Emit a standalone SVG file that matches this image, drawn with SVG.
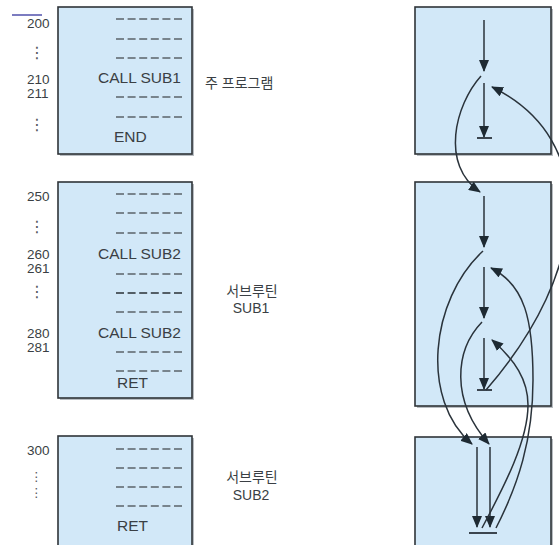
<svg xmlns="http://www.w3.org/2000/svg" width="559" height="545" viewBox="0 0 559 545">
<defs>
<marker id="ah" viewBox="0 0 12 10" refX="11" refY="5" markerWidth="12" markerHeight="10" markerUnits="userSpaceOnUse" orient="auto"><path d="M0,0 L12,5 L0,10 z" fill="#1e2a33"/></marker>
</defs>
<style>
.box{fill:#d2e8f8;stroke:#2f3438;stroke-width:1.6}
.sh{fill:#7d8790;opacity:0.55}
.dash{stroke:#5b636a;stroke-width:1.3;stroke-dasharray:8 3.6}
.dash.dk{stroke:#2a3036;stroke-width:1.6}
.code{font-family:"Liberation Sans",Arial,sans-serif;font-size:15.5px;fill:#3a3f44}
.num{font-family:"Liberation Sans",Arial,sans-serif;font-size:13.5px;fill:#3a3f44}
.dots{font-family:"DejaVu Sans",sans-serif;font-size:16px;fill:#55595d}
.dots.sm{font-size:12.5px}
.lbl{font-family:"Liberation Sans","Noto Sans CJK KR",sans-serif;font-size:14px;fill:#3a3f44}
.flow{fill:none;stroke:#2a333b;stroke-width:1.5}
.bar{stroke:#2a333b;stroke-width:1.8}
</style>
<rect width="559" height="545" fill="#ffffff"/>
<line x1="12" y1="15" x2="42" y2="15" stroke="#7c7cc0" stroke-width="2"/>

<g id="main-program">
<rect class="sh" x="60" y="9" width="134" height="147"/>
<rect class="box" x="58" y="7" width="134" height="147"/>
<line class="dash" x1="116" y1="19" x2="182" y2="19"/>
<line class="dash" x1="116" y1="39" x2="182" y2="39"/>
<line class="dash" x1="116" y1="58" x2="182" y2="58"/>
<text class="code" x="181" y="83" text-anchor="end">CALL SUB1</text>
<line class="dash" x1="116" y1="97" x2="182" y2="97"/>
<line class="dash" x1="116" y1="117" x2="182" y2="117"/>
<text class="code" x="114" y="142">END</text>
<text class="num" x="27" y="28">200</text>
<text class="dots" x="29" y="58">⋮</text>
<text class="num" x="27" y="84">210</text>
<text class="num" x="27" y="98">211</text>
<text class="dots" x="29" y="130">⋮</text>
<text class="lbl" x="205" y="88">주 프로그램</text>
</g>

<g id="sub1">
<rect class="sh" x="60" y="184" width="134" height="216"/>
<rect class="box" x="58" y="182" width="134" height="216"/>
<line class="dash" x1="116" y1="194" x2="182" y2="194"/>
<line class="dash" x1="116" y1="213" x2="182" y2="213"/>
<line class="dash" x1="116" y1="233" x2="182" y2="233"/>
<text class="code" x="181" y="259" text-anchor="end">CALL SUB2</text>
<line class="dash" x1="116" y1="274" x2="182" y2="274"/>
<line class="dash dk" x1="116" y1="293" x2="182" y2="293"/>
<line class="dash" x1="116" y1="312" x2="182" y2="312"/>
<text class="code" x="181" y="338" text-anchor="end">CALL SUB2</text>
<line class="dash" x1="116" y1="352" x2="182" y2="352"/>
<line class="dash" x1="116" y1="371" x2="182" y2="371"/>
<text class="code" x="117" y="388">RET</text>
<text class="num" x="27" y="201">250</text>
<text class="dots" x="29" y="232">⋮</text>
<text class="num" x="27" y="259">260</text>
<text class="num" x="27" y="273">261</text>
<text class="dots" x="29" y="297">⋮</text>
<text class="num" x="27" y="338">280</text>
<text class="num" x="27" y="352">281</text>
<text class="lbl" x="252" y="296" text-anchor="middle">서브루틴</text>
<text class="lbl" x="251" y="313" text-anchor="middle">SUB1</text>
</g>

<g id="sub2">
<rect class="sh" x="60" y="438" width="134" height="115"/>
<rect class="box" x="58" y="436" width="134" height="115"/>
<line class="dash" x1="116" y1="449" x2="182" y2="449"/>
<line class="dash" x1="116" y1="468" x2="182" y2="468"/>
<line class="dash" x1="116" y1="487" x2="182" y2="487"/>
<line class="dash" x1="116" y1="506" x2="182" y2="506"/>
<text class="code" x="117" y="531">RET</text>
<text class="num" x="27" y="455">300</text>
<text class="dots sm" x="30" y="481">⋮</text>
<text class="dots sm" x="30" y="497">⋮</text>
<text class="lbl" x="252" y="482" text-anchor="middle">서브루틴</text>
<text class="lbl" x="251" y="500" text-anchor="middle">SUB2</text>
</g>

<g id="flow-main">
<rect class="sh" x="417" y="9" width="136" height="147"/>
<rect class="box" x="415" y="7" width="136" height="147"/>
</g>
<g id="flow-sub1">
<rect class="sh" x="417" y="184" width="136" height="224"/>
<rect class="box" x="415" y="182" width="136" height="224"/>
</g>
<g id="flow-sub2">
<rect class="sh" x="417" y="439" width="136" height="115"/>
<rect class="box" x="415" y="437" width="136" height="115"/>
</g>

<g id="connectors">
<line class="flow" x1="484" y1="20" x2="484" y2="71" marker-end="url(#ah)"/>
<line class="flow" x1="484" y1="83" x2="484" y2="137" marker-end="url(#ah)"/>
<line class="bar" x1="477" y1="138" x2="492" y2="138"/>
<line class="flow" x1="484" y1="196" x2="484" y2="247" marker-end="url(#ah)"/>
<line class="flow" x1="484" y1="267" x2="484" y2="318" marker-end="url(#ah)"/>
<line class="flow" x1="484" y1="338" x2="484" y2="389" marker-end="url(#ah)"/>
<line class="bar" x1="477" y1="390" x2="492" y2="390"/>
<line class="flow" x1="477" y1="447" x2="477" y2="527" marker-end="url(#ah)"/>
<line class="flow" x1="490" y1="447" x2="490" y2="527" marker-end="url(#ah)"/>
<line class="bar" x1="469" y1="533" x2="497" y2="533"/>
<path class="flow" d="M481 76 C455 105,440 165,480 192" marker-end="url(#ah)"/>
<path class="flow" d="M486 390 C590 270,600 140,492 87" marker-end="url(#ah)"/>
<path class="flow" d="M483 251 C430 300,420 400,472 444" marker-end="url(#ah)"/>
<path class="flow" d="M482 322 C455 350,450 400,489 444" marker-end="url(#ah)"/>
<path class="flow" d="M482 528 C505 485,528 440,528 405 C528 380,515 360,492 340" marker-end="url(#ah)"/>
<path class="flow" d="M496 528 C518 485,533 440,533 380 C533 320,525 285,491 268" marker-end="url(#ah)"/>
</g>
</svg>
